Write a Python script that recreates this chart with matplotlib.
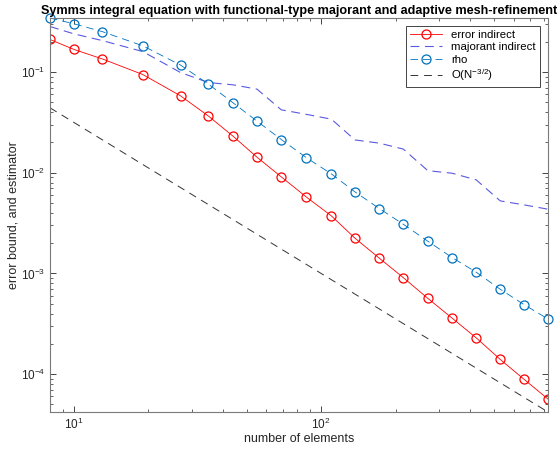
import numpy as np
import matplotlib
matplotlib.use("Agg")
import matplotlib.pyplot as plt

plt.rcParams["font.family"] = ["Liberation Sans", "DejaVu Sans"]
plt.rcParams["mathtext.fontset"] = "custom"
plt.rcParams["mathtext.rm"] = "Liberation Sans"
plt.rcParams["mathtext.it"] = "Liberation Sans:italic"

# number of elements per refinement step
n_elems = [8, 10, 13, 19, 27, 35, 44, 55, 69, 87, 110, 137, 172, 215,
           270, 339, 424, 530, 662, 827]

err_indirect = [0.211, 0.168, 0.1355, 0.0946, 0.0581, 0.0366, 0.0231, 0.01429,
                0.0091, 0.00576, 0.00373, 0.00224, 0.001416, 0.000908,
                0.000566, 0.000359, 0.000229, 0.000140, 8.87e-5, 5.65e-5]

majorant_indirect = [0.284, 0.240, 0.206, 0.160, 0.099, 0.0788, 0.0748, 0.0678,
                     0.0422, 0.0381, 0.0341, 0.0212, 0.0197, 0.0172, 0.0105,
                     0.0099, 0.0085, 0.00526, 0.0048, 0.00435]

rho = [0.345, 0.302, 0.253, 0.1825, 0.1174, 0.0760, 0.0496, 0.0326, 0.0214,
       0.01416, 0.00975, 0.00646, 0.00441, 0.00308, 0.00209, 0.001436,
       0.001028, 0.000697, 0.000490, 0.000353]

N = np.array(n_elems, dtype=float)
ref_rate = N ** -1.5

fig = plt.figure(figsize=(5.59, 4.49), dpi=100)
ax = fig.add_axes([50 / 559, 1 - 412 / 449, 498 / 559, 394 / 449])

ax.loglog(N, err_indirect, "-o", color="red", lw=0.6, ms=6.5, mfc="none",
          mew=0.9, label="error indirect")
ax.loglog(N, majorant_indirect, "--", color="#5a5ae0", lw=0.8, dashes=(8, 5),
          label="majorant indirect")
ax.loglog(N, rho, "--o", color="#0072BD", lw=0.6, dashes=(9, 6), ms=6.5,
          mfc="none", mew=0.9, label="rho", clip_on=False)
ax.loglog(N, ref_rate, "--", color="#333333", lw=0.7, dashes=(8, 6),
          label="O(N$^{-3/2}$)")

# axis tight
ax.set_xlim(N.min(), N.max())
ymin = min(min(err_indirect), min(majorant_indirect), min(rho), ref_rate.min())
ymax = max(max(err_indirect), max(majorant_indirect), max(rho), ref_rate.max())
ax.set_ylim(ymin, ymax)

ax.tick_params(which="both", direction="in", top=True, right=True,
               labelsize=8.5, colors="#262626")
ax.tick_params(which="major", length=4, width=0.6)
ax.tick_params(which="minor", length=2, width=0.5)
for s in ax.spines.values():
    s.set_color("#7a7a7a")
    s.set_linewidth(0.8)

ax.set_xlabel("number of elements", fontsize=9, color="#262626", labelpad=1)
ax.set_ylabel("error bound, and estimator", fontsize=9, color="#262626",
              labelpad=1)
ax.set_title("Symms integral equation with functional-type majorant and adaptive mesh-refinement",
             fontsize=9.1, fontweight="bold", pad=3)

leg = ax.legend(loc="upper right", fontsize=8.2, fancybox=False, framealpha=1,
                edgecolor="#262626", borderpad=0.35, labelspacing=0.2,
                handlelength=2.8, borderaxespad=0.7)
leg.get_frame().set_linewidth(0.6)

fig.savefig("out.png", dpi=100)
